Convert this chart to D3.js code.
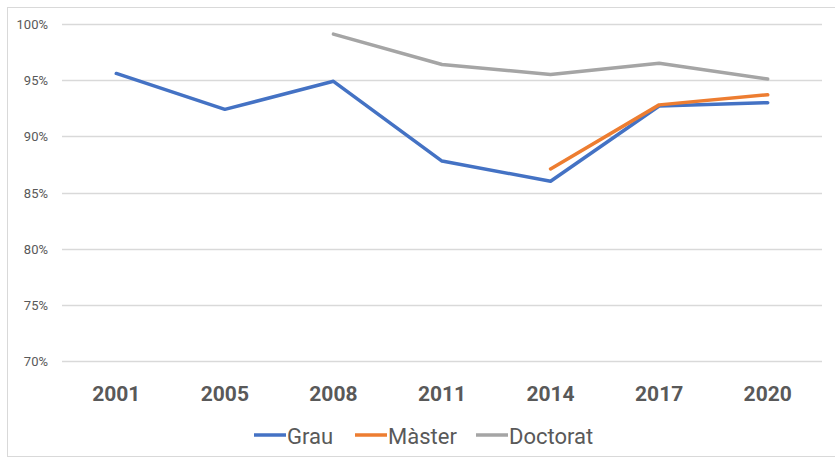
<!DOCTYPE html>
<html>
<head>
<meta charset="utf-8">
<script src="https://cdn.jsdelivr.net/npm/d3@7"></script>
<style>
  body { margin: 0; background: #fff; }
  svg { display: block; }
</style>
</head>
<body>
<svg id="chart"></svg>
<script>
// dades llegides del gràfic
var years = ["2001", "2005", "2008", "2011", "2014", "2017", "2020"];
var grau = [95.6, 92.4, 94.9, 87.8, 86.0, 92.7, 93.0];
var master = [null, null, null, null, 87.1, 92.8, 93.7];
var doctorat = [null, null, 99.1, 96.4, 95.5, 96.5, 95.1];
var yTicks = [70, 75, 80, 85, 90, 95, 100];

var series = [
  {name: "Grau", values: grau, color: "#4472C4"},
  {name: "Màster", values: master, color: "#ED7D31"},
  {name: "Doctorat", values: doctorat, color: "#A5A5A5"}
];

var width = 835, height = 459;
var plotLeft = 62, plotRight = 822, plotTop = 24, plotBottom = 361;
var font = "Roboto, Liberation Sans, sans-serif";

var svg = d3.select("#chart")
  .attr("width", width)
  .attr("height", height);

// marc exterior
svg.append("rect")
  .attr("x", 7.5).attr("y", 7.5)
  .attr("width", 840).attr("height", 449)
  .attr("fill", "none")
  .attr("stroke", "#d9d9d9");

var x = d3.scaleBand()
  .domain(years)
  .range([plotLeft, plotRight]);

var y = d3.scaleLinear()
  .domain([70, 100])
  .range([plotBottom, plotTop]);

// línies de la graella
svg.append("g")
  .selectAll("line")
  .data(yTicks)
  .enter().append("line")
  .attr("x1", plotLeft)
  .attr("x2", plotRight)
  .attr("y1", function(d){ return Math.round(y(d)) + 0.5; })
  .attr("y2", function(d){ return Math.round(y(d)) + 0.5; })
  .attr("stroke", "#d9d9d9")
  .attr("stroke-width", 1.3);

// etiquetes eix Y
svg.append("g")
  .selectAll("text")
  .data(yTicks)
  .enter().append("text")
  .attr("x", 48)
  .attr("y", function(d){ return y(d) + 5; })
  .attr("text-anchor", "end")
  .attr("font-family", font)
  .attr("font-size", "13px")
  .attr("fill", "#595959")
  .text(function(d){ return d + "%"; });

// etiquetes eix X
svg.append("g")
  .selectAll("text")
  .data(years)
  .enter().append("text")
  .attr("x", function(d){ return x(d) + x.bandwidth() / 2; })
  .attr("y", 401)
  .attr("text-anchor", "middle")
  .attr("font-family", font)
  .attr("font-weight", "bold")
  .attr("font-size", "21px")
  .attr("fill", "#595959")
  .text(function(d){ return d; });

var line = d3.line()
  .defined(function(d){ return d.v !== null; })
  .x(function(d){ return x(d.year) + x.bandwidth() / 2; })
  .y(function(d){ return y(d.v); });

series.forEach(function(s){
  var pts = years.map(function(yr, i){ return {year: yr, v: s.values[i]}; });
  svg.append("path")
    .datum(pts)
    .attr("d", line)
    .attr("fill", "none")
    .attr("stroke", s.color)
    .attr("stroke-width", 3.5)
    .attr("stroke-linecap", "round")
    .attr("stroke-linejoin", "round");
});

// llegenda
var legendX = [254, 355, 476];
var legend = svg.append("g");
series.forEach(function(s, i){
  legend.append("line")
    .attr("x1", legendX[i]).attr("x2", legendX[i] + 32)
    .attr("y1", 435).attr("y2", 435)
    .attr("stroke", s.color)
    .attr("stroke-width", 3.5);
  legend.append("text")
    .attr("x", legendX[i] + 33)
    .attr("y", 444)
    .attr("font-family", font)
    .attr("font-size", "22px")
    .attr("fill", "#595959")
    .text(s.name);
});
</script>
</body>
</html>
